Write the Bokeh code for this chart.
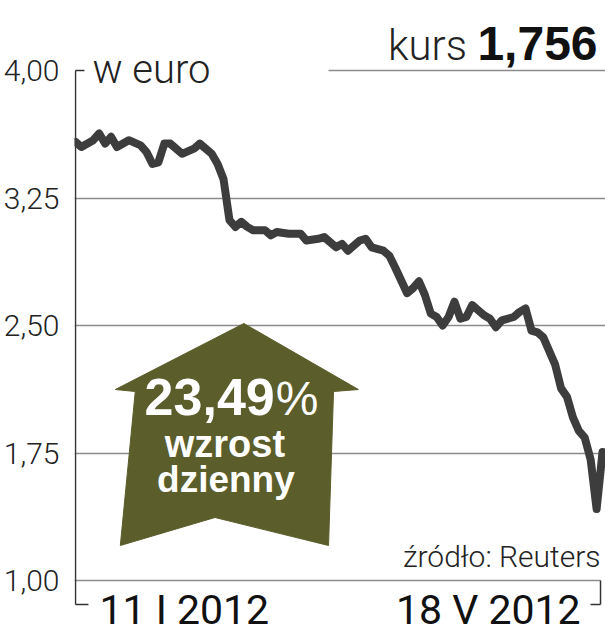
from bokeh.plotting import figure
from bokeh.models import Range1d, Label, FixedTicker
from bokeh.embed import file_html
from bokeh.resources import INLINE

# ---------------- data ----------------
# trading-day index counted from 11 I 2012 (0) to 18 V 2012 (89)
day_idx = [0, 1, 3, 4, 5, 6, 7, 9, 11, 12,
           13, 14, 15, 16, 18, 20, 21, 23, 24, 25,
           26, 27, 28, 29, 30, 32, 33, 34, 36, 38,
           39, 41, 42, 44, 45, 46, 48, 49, 50, 52,
           53, 54, 56, 57, 58, 59, 60, 61, 62, 63,
           64, 65, 66, 67, 68, 69, 70, 71, 72, 74,
           75, 76, 77, 78, 79, 81, 82, 83, 84, 85,
           86, 87, 88, 89]
rate_eur = [3.58, 3.55, 3.59, 3.63, 3.57, 3.61, 3.55, 3.59, 3.56, 3.52,
            3.45, 3.46, 3.57, 3.57, 3.51, 3.54, 3.57, 3.51, 3.45, 3.36,
            3.12, 3.08, 3.11, 3.08, 3.06, 3.06, 3.03, 3.05, 3.04, 3.04,
            3.00, 3.01, 3.02, 2.96, 2.98, 2.94, 3.00, 3.01, 2.96, 2.94,
            2.91, 2.84, 2.69, 2.72, 2.76, 2.68, 2.57, 2.55, 2.50, 2.55,
            2.64, 2.54, 2.55, 2.62, 2.59, 2.56, 2.54, 2.49, 2.53, 2.55,
            2.58, 2.60, 2.47, 2.46, 2.43, 2.27, 2.13, 2.08, 1.96, 1.88,
            1.84, 1.71, 1.42, 1.756]
y_ticks = [1.0, 1.75, 2.5, 3.25, 4.0]
y_tick_labels = ["1,00", "1,75", "2,50", "3,25", "4,00"]
date_labels = ["11 I 2012", "18 V 2012"]
unit_text = "w euro"
kurs_word = "kurs"
kurs_value = "1,756"
change_value = "23,49"
change_words = ["wzrost", "dzienny"]
source_text = "źródło: Reuters"

# ---------------- layout helpers (positions only) ----------------
W, H = 605, 640
PXD = 5.944          # pixels per trading day


def X(px):  # picture x pixel -> data x
    return (px - 73) / PXD


def Y(py):  # picture y pixel -> data y
    return 4 - (py - 70) / 170.0


LIGHT = "Roboto Light"
REG = "Roboto"
BOLD = "Liberation Sans"
INK = "#222222"
GRID = "#8c8c8c"
LINE = "#3d3d3d"
OLIVE = "#5b5d2a"

p = figure(width=W, height=H, output_backend="svg", toolbar_location=None,
           x_range=Range1d(X(72), X(605)), y_range=Range1d(Y(640), Y(0)),
           x_axis_location=None, min_border_left=72, min_border_right=0,
           min_border_top=0, min_border_bottom=0, outline_line_color=None,
           background_fill_color="white", border_fill_color="white")

# y axis
yax = p.yaxis[0]
yax.ticker = FixedTicker(ticks=y_ticks)
yax.major_label_overrides = {t: l for t, l in zip(y_ticks, y_tick_labels)}
yax.axis_line_color = None
yax.major_tick_line_color = None
yax.minor_tick_line_color = None
yax.major_label_standoff = 9
yax.major_label_text_font = LIGHT
yax.major_label_text_font_size = "30px"
yax.major_label_text_color = INK

p.xgrid.visible = False
p.ygrid.ticker = FixedTicker(ticks=[1.75, 2.5, 3.25])
p.ygrid.grid_line_color = GRID
p.ygrid.grid_line_width = 1.5

# bottom baseline (1,00) and partial top line (4,00)
p.segment(x0=[X(72)], y0=[1.0], x1=[X(600)], y1=[1.0], line_color=GRID, line_width=1.5)
p.segment(x0=[X(327)], y0=[4.0], x1=[X(606)], y1=[4.0], line_color=GRID, line_width=1.5)

# axis line and brackets
p.segment(x0=[X(73), X(73), X(73), X(600), X(590)],
          y0=[Y(70), Y(70), Y(604), Y(580), Y(604)],
          x1=[X(73), X(82), X(86), X(600), X(600)],
          y1=[Y(604), Y(70), Y(604), Y(604), Y(604)],
          line_color="#333333", line_width=1.5)

# arrow shape
arrow_px = [(242, 323), (357, 389), (332, 391), (327, 545), (213, 517),
            (118, 545), (133, 391), (113, 389)]
p.patch([X(a) for a, b in arrow_px], [Y(b) for a, b in arrow_px],
        fill_color=OLIVE, line_color=OLIVE)

# data line
p.line(day_idx, rate_eur, line_color=LINE, line_width=8,
       line_join="round", line_cap="round")


# texts (baseline given in picture pixels; renderer sits text ~0.35em low)
def lab(x, base, text, font, size, color=INK, align="left", style="normal"):
    p.add_layout(Label(x=X(x), y=Y(base - 0.35 * size), text=text, text_font=font,
                       text_font_size=f"{size}px", text_color=color,
                       text_align=align, text_baseline="alphabetic",
                       text_font_style=style))


lab(90, 83, unit_text, LIGHT, 40)
lab(466, 60, kurs_word, LIGHT, 42, align="right")
lab(597, 60, kurs_value, BOLD, 48, color="#111111", align="right", style="bold")

lab(273, 415, change_value, BOLD, 52, color="white", align="right", style="bold")
lab(274, 415, "%", BOLD, 48, color="white")
lab(223, 457, change_words[0], BOLD, 38, color="white", align="center", style="bold")
lab(224, 492, change_words[1], BOLD, 37, color="white", align="center", style="bold")

lab(600, 566, source_text, LIGHT, 30, align="right")
lab(97, 624, date_labels[0], REG, 41, color="#111111")
lab(580, 624, date_labels[1], REG, 41, color="#111111", align="right")

open("out.html", "w").write(file_html(p, INLINE))
